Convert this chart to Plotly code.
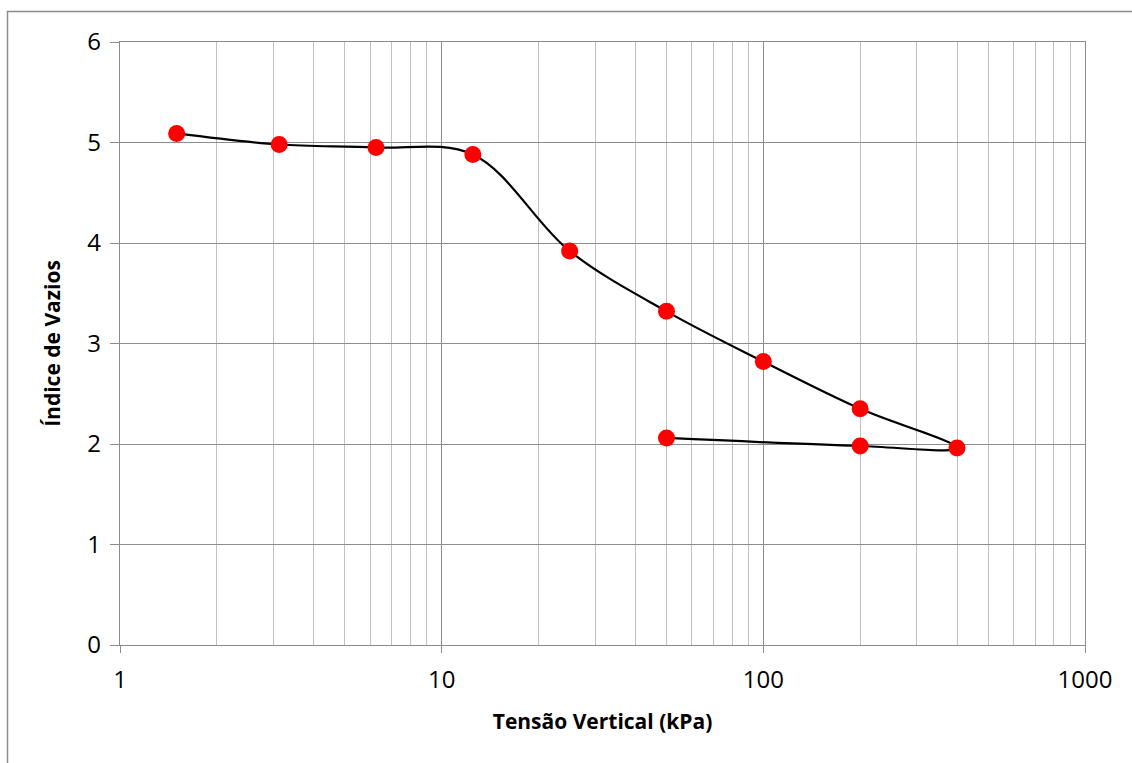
import plotly.graph_objects as go

stress_kpa = [1.5, 3.125, 6.25, 12.5, 25, 50, 100, 200, 400, 200, 50]
void_ratio = [5.09, 4.98, 4.95, 4.88, 3.92, 3.32, 2.82, 2.35, 1.96, 1.98, 2.06]

x_title = "Tensão Vertical (kPa)"
y_title = "Índice de Vazios"

FONT = "Open Sans"

fig = go.Figure()
fig.add_trace(go.Scatter(
    x=stress_kpa, y=void_ratio,
    mode="lines+markers",
    line=dict(color="black", width=2.2, shape="spline", smoothing=1),
    marker=dict(color="#ff0000", size=17),
    showlegend=False,
))

L, R, T, B = 120, 47, 42, 118
W, H = 1132, 763
pw, ph = W - L - R, H - T - B

fig.update_layout(
    width=W, height=H,
    margin=dict(l=L, r=R, t=T, b=B),
    paper_bgcolor="white", plot_bgcolor="white",
    font=dict(family=FONT, color="black"),
    xaxis=dict(
        type="log", range=[0, 3], dtick=1,
        showgrid=True, gridcolor="#8c8c8c", gridwidth=1.3,
        minor=dict(dtick="D1", showgrid=True, gridcolor="#c0c0c0", gridwidth=1.3, ticks=""),
        ticks="outside", ticklen=7, tickcolor="#8c8c8c", tickwidth=1.3,
        showline=True, linecolor="#8c8c8c", linewidth=1.3, mirror=True,
        tickfont=dict(size=24, family=FONT),
        ticklabelstandoff=6,
        title=dict(text="<b>" + x_title + "</b>", font=dict(size=21, family=FONT), standoff=20),
        zeroline=False,
    ),
    yaxis=dict(
        range=[0, 6], dtick=1,
        showgrid=True, gridcolor="#8c8c8c", gridwidth=1.3,
        ticks="outside", ticklen=9, tickcolor="#8c8c8c", tickwidth=1.3,
        showline=True, linecolor="#8c8c8c", linewidth=1.3, mirror=True,
        tickfont=dict(size=24, family=FONT),
        ticklabelstandoff=4,
        title=dict(text="<b>" + y_title + "</b>", font=dict(size=21, family=FONT), standoff=20),
        zeroline=False,
    ),
)

# outer chart-area border (clipped at right and bottom as in the reference)
fig.add_shape(
    type="rect", xref="paper", yref="paper",
    x0=(7.5 - L) / pw, x1=(W + 10 - L) / pw,
    y0=(H - B - (H + 10)) / ph, y1=(H - B - 11.5) / ph,
    line=dict(color="#8c8c8c", width=1.5), fillcolor="rgba(0,0,0,0)",
    layer="below",
)

fig.write_html("out.html")
